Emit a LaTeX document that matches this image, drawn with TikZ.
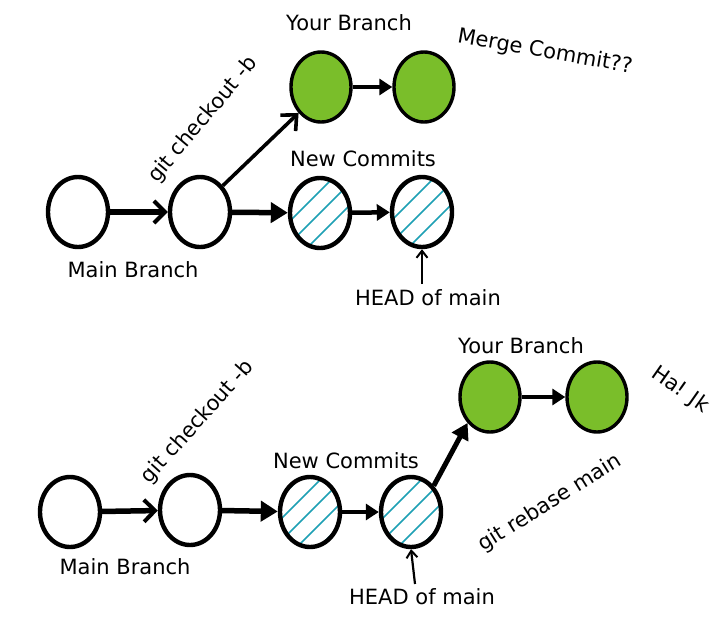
\documentclass[tikz,border=0pt]{standalone}
\usepackage{fontspec}
\setmainfont{DejaVu Sans}
\usetikzlibrary{shapes.geometric,arrows.meta}
\definecolor{leaf}{RGB}{122,190,42}
\definecolor{hatchc}{RGB}{30,160,180}
\tikzset{
  commit/.style={ellipse, draw=black, line width=4.4pt, minimum width=60pt, minimum height=70pt, inner sep=0pt, fill=white},
  greencommit/.style={commit, fill=leaf, line width=3.4pt},
  hatched/.style={commit, path picture={
      \foreach \i in {-44,-22,0,22,44}
        \draw[hatchc, line width=1.5pt] ([xshift=\i pt-40pt, yshift=-40pt]path picture bounding box.center) -- ++(80pt,80pt);}},
  lbl/.style={font=\fontsize{21}{24}\selectfont, inner sep=1pt},
  thickarrow/.style={line width=5.5pt, -{Triangle[length=17pt,width=20pt]}},
  openarrow/.style={line width=5.5pt, -{Straight Barb[length=11pt,width=22pt,line width=4pt]}},
  thinarrow/.style={line width=4.5pt, -{Triangle[length=13pt,width=16pt]}},
  diagarrow/.style={line width=3.6pt, -{Straight Barb[length=12pt,width=22pt,line width=3.6pt]}},
  diagarrowb/.style={line width=5pt, -{Triangle[length=16pt,width=18pt]}},
  headarrow/.style={line width=2.2pt, -{Straight Barb[length=7pt,width=11pt,line width=2pt]}},
}
\begin{document}
\begin{tikzpicture}[x=1pt,y=-1pt]
\useasboundingbox (0,0) rectangle (720,633);
% ---------- top diagram ----------
\node[commit] (a1) at (78,212) {};
\node[commit] (a2) at (200,212) {};
\node[hatched] (a3) at (320,213) {};
\node[hatched] (a4) at (422,212) {};
\node[greencommit] (g1) at (321,87) {};
\node[greencommit] (g2) at (424,87) {};
\draw[openarrow] (a1) -- (a2);
\draw[thickarrow] (a2) -- (a3);
\draw[thinarrow] (a3) -- (a4);
\draw[thinarrow] (g1) -- (g2);
\draw[diagarrow] (a2.north east) -- (g1.south west);
\coordinate (ha) at (422,284);
\draw[headarrow] (ha) -- (a4.south);
\node[lbl] (t1) at (349,23) {Your Branch};
\node[lbl, rotate=-10] (t2) at (545,52) {Merge Commit??};
\node[lbl, rotate=50] (t3) at (203,120) {git checkout -b};
\node[lbl] (t4) at (363,159) {New Commits};
\node[lbl] (t5) at (133,270) {Main Branch};
\node[lbl] (t6) at (428,298) {HEAD of main};
% ---------- bottom diagram ----------
\node[commit] (b1) at (70,512) {};
\node[commit] (b2) at (190,510) {};
\node[hatched] (b3) at (310,512) {};
\node[hatched] (b4) at (411,512) {};
\node[greencommit] (h1) at (490,397) {};
\node[greencommit] (h2) at (597,397) {};
\draw[openarrow] (b1) -- (b2);
\draw[thickarrow] (b2) -- (b3);
\draw[thinarrow] (b3) -- (b4);
\draw[thinarrow] (h1) -- (h2);
\draw[diagarrowb] (b4.north east) -- (h1.south west);
\coordinate (hb) at (415,584);
\draw[headarrow] (hb) -- (b4.south);
\node[lbl] (u1) at (521,346) {Your Branch};
\node[lbl, rotate=-35] (u2) at (680,390) {Ha! Jk};
\node[lbl, rotate=48] (u3) at (198,422) {git checkout -b};
\node[lbl] (u4) at (346,461) {New Commits};
\node[lbl] (u5) at (125,567) {Main Branch};
\node[lbl] (u6) at (422,597) {HEAD of main};
\node[lbl, rotate=32] (u7) at (550,503) {git rebase main};
\end{tikzpicture}
\end{document}
